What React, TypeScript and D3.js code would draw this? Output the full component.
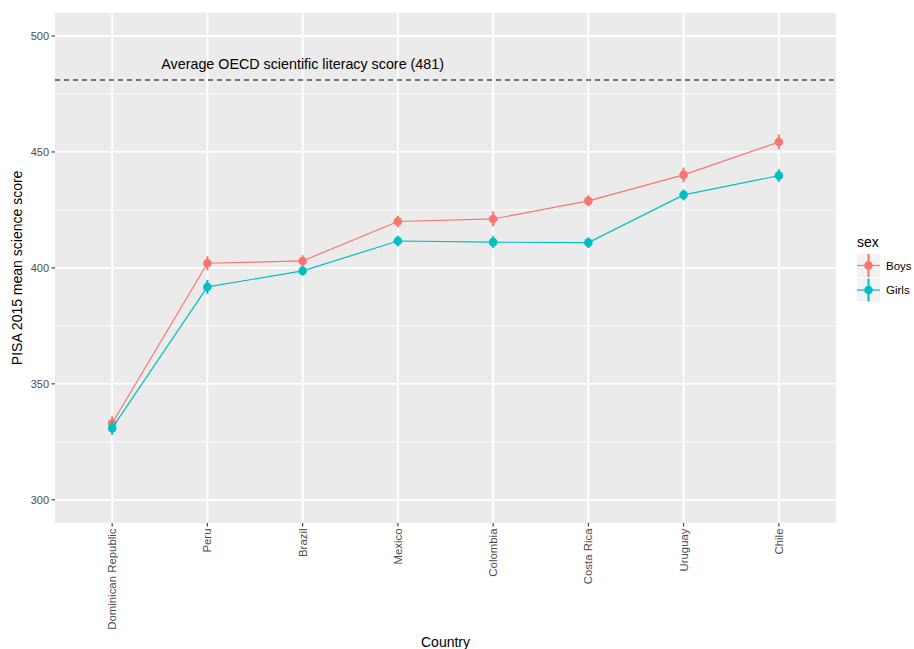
import React from "react";
import * as d3 from "d3";

// PISA 2015 mean science scores by country and sex
const countries = [
  "Dominican Republic",
  "Peru",
  "Brazil",
  "Mexico",
  "Colombia",
  "Costa Rica",
  "Uruguay",
  "Chile",
];
const boysScore = [333.0, 402.0, 403.0, 420.0, 421.1, 428.9, 440.1, 454.3];
const boysSE = [3.0, 3.0, 2.5, 2.5, 3.2, 2.4, 3.2, 3.2];
const girlsScore = [330.9, 391.8, 398.7, 411.6, 411.1, 410.9, 431.5, 439.8];
const girlsSE = [2.9, 3.0, 2.0, 2.3, 2.6, 2.3, 2.3, 2.7];
const yTicks = [300, 350, 400, 450, 500];
const yMinor = [325, 375, 425, 475];
const oecdAverage = 481;
const seriesNames = ["Boys", "Girls"];
const seriesColors = ["#F8766D", "#00BFC4"];

const W = 914;
const H = 649;
const panel = { left: 55, right: 836, top: 12.8, bottom: 523 };
const FONT = "'Liberation Sans', Arial, Helvetica, sans-serif";

export default function App() {
  const x = d3
    .scalePoint<string>()
    .domain(countries)
    .range([panel.left, panel.right])
    .padding(0.6);
  const y = d3.scaleLinear().domain([290, 510]).range([panel.bottom, panel.top]);

  const series = [
    { name: seriesNames[0], color: seriesColors[0], values: boysScore, se: boysSE },
    { name: seriesNames[1], color: seriesColors[1], values: girlsScore, se: girlsSE },
  ];

  const line = d3
    .line<number>()
    .x((_, i) => x(countries[i]) as number)
    .y((v) => y(v));

  return (
    <svg
      width={W}
      height={H}
      style={{ position: "absolute", top: 0, left: 0, display: "block" }}
      fontFamily={FONT}
    >
      <rect x={0} y={0} width={W} height={H} fill="#fff" />
      {/* panel */}
      <rect
        x={panel.left}
        y={panel.top}
        width={panel.right - panel.left}
        height={panel.bottom - panel.top}
        fill="#EBEBEB"
      />
      {yMinor.map((t) => (
        <line key={"mn" + t} x1={panel.left} x2={panel.right} y1={y(t)} y2={y(t)} stroke="#fff" strokeWidth={0.9} />
      ))}
      {yTicks.map((t) => (
        <line key={"mj" + t} x1={panel.left} x2={panel.right} y1={y(t)} y2={y(t)} stroke="#fff" strokeWidth={1.8} />
      ))}
      {countries.map((c) => (
        <line key={"vx" + c} x1={x(c)} x2={x(c)} y1={panel.top} y2={panel.bottom} stroke="#fff" strokeWidth={1.8} />
      ))}

      {/* reference line */}
      <line
        x1={panel.left}
        x2={panel.right}
        y1={y(oecdAverage)}
        y2={y(oecdAverage)}
        stroke="#000"
        strokeWidth={1.1}
        strokeDasharray="5,4"
      />
      <text
        x={x(countries[2])}
        y={y(488)}
        textAnchor="middle"
        dominantBaseline="central"
        fontSize={14.3}
        fill="#000"
      >
        {`Average OECD scientific literacy score (${oecdAverage})`}
      </text>

      {/* series */}
      {series.map((s) => (
        <g key={s.name}>
          <path d={line(s.values) ?? ""} fill="none" stroke={s.color} strokeWidth={1.2} />
          {s.values.map((v, i) => (
            <g key={i}>
              <line
                x1={x(countries[i])}
                x2={x(countries[i])}
                y1={y(v - s.se[i])}
                y2={y(v + s.se[i])}
                stroke={s.color}
                strokeWidth={2}
              />
              <circle cx={x(countries[i])} cy={y(v)} r={4.3} fill={s.color} />
            </g>
          ))}
        </g>
      ))}

      {/* y axis */}
      {yTicks.map((t) => (
        <g key={"yt" + t}>
          <line x1={panel.left - 3.5} x2={panel.left} y1={y(t)} y2={y(t)} stroke="#333" strokeWidth={1.1} />
          <text x={panel.left - 6} y={y(t)} textAnchor="end" dominantBaseline="central" fontSize={11} fill="#4D4D4D">
            {t}
          </text>
        </g>
      ))}
      <text
        transform={`translate(22,${(panel.top + panel.bottom) / 2}) rotate(-90)`}
        textAnchor="middle"
        fontSize={14}
        fill="#000"
      >
        PISA 2015 mean science score
      </text>

      {/* x axis */}
      {countries.map((c) => (
        <g key={"xt" + c}>
          <line x1={x(c)} x2={x(c)} y1={panel.bottom} y2={panel.bottom + 3.5} stroke="#333" strokeWidth={1.1} />
          <text
            transform={`translate(${x(c)},${panel.bottom + 5.5}) rotate(-90)`}
            textAnchor="end"
            dominantBaseline="central"
            fontSize={11.4}
            fill="#4D4D4D"
          >
            {c}
          </text>
        </g>
      ))}
      <text x={(panel.left + panel.right) / 2} y={647} textAnchor="middle" fontSize={14} fill="#000">
        Country
      </text>

      {/* legend */}
      <text x={857} y={247} fontSize={14} fill="#000">
        sex
      </text>
      {series.map((s, i) => {
        const cy = 265.5 + i * 24.5;
        return (
          <g key={"lg" + s.name}>
            <rect x={857} y={cy - 11.5} width={23} height={23} fill="#F2F2F2" />
            <line x1={857} x2={880} y1={cy} y2={cy} stroke={s.color} strokeWidth={1.2} />
            <line x1={868.5} x2={868.5} y1={cy - 11.5} y2={cy + 11.5} stroke={s.color} strokeWidth={2} />
            <circle cx={868.5} cy={cy} r={4.3} fill={s.color} />
            <text x={886} y={cy} dominantBaseline="central" fontSize={11.5} fill="#000">
              {s.name}
            </text>
          </g>
        );
      })}
    </svg>
  );
}
